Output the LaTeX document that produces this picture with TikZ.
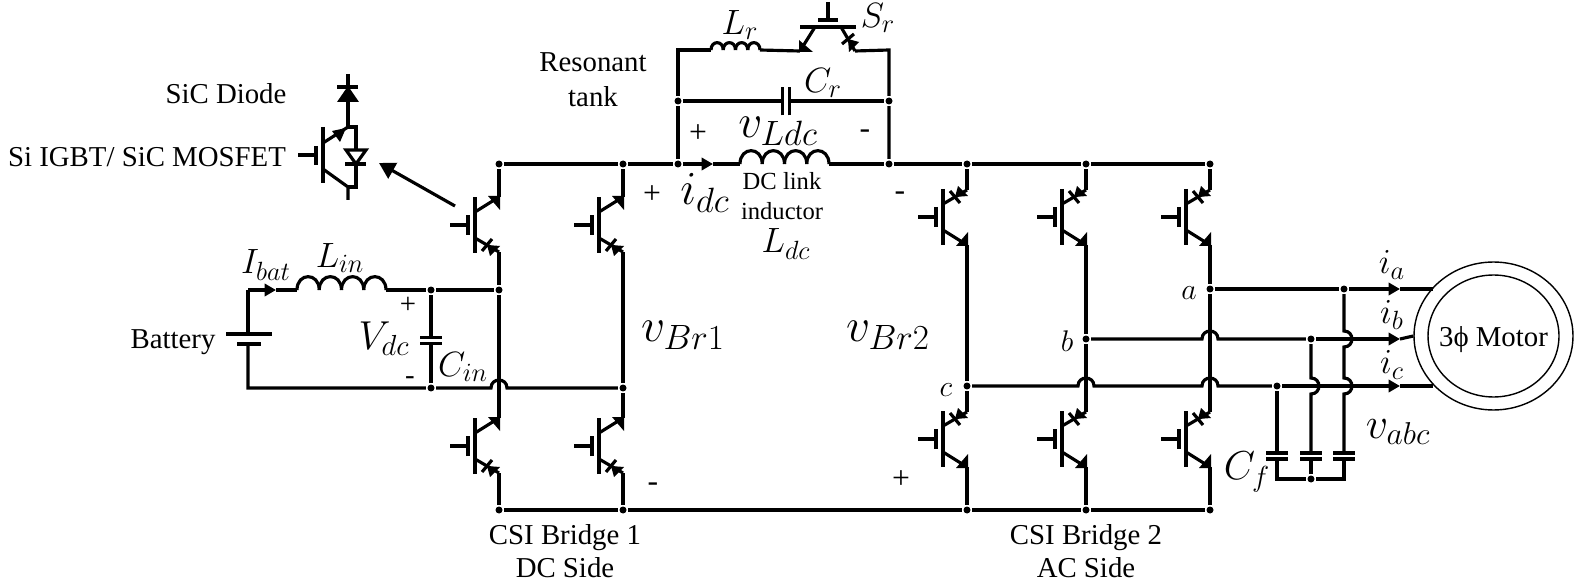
\documentclass[tikz,border=0pt]{standalone}
\usepackage{fix-cm}
\usepackage{fontspec}
\setmainfont{Liberation Serif}
\usetikzlibrary{arrows.meta,calc,shapes.geometric}
\DeclareMathSizes{20}{20}{15}{11}
\DeclareMathSizes{23}{23}{16.5}{12}
\DeclareMathSizes{25}{25}{18}{13}
\DeclareMathSizes{27}{27}{20}{15}
\newcommand{\fsz}[1]{\fontsize{#1}{#1}\selectfont}
\tikzset{every path/.style={black,line width=1.8pt}, every node/.style={inner sep=0pt,font=\fontsize{16.4}{18}\selectfont},
  dotnode/.style={circle,fill,minimum size=0.14cm},
  smalllbl/.style={font=\fsz{17}},
  lbl/.style={font=\fsz{20}},
  biglbl/.style={font=\fsz{27}},
  arrowwire/.style={-{Triangle[length=6.5pt,width=7pt]}},
  motor/.style={draw,ellipse,line width=0.8pt},
  hoph/.style={insert path={-- ($(#1)+(-8,0)$) .. controls ($(#1)+(-8,-10.6)$) and ($(#1)+(8,-10.6)$) .. ($(#1)+(8,0)$)}},
  hopv/.style={insert path={-- ($(#1)+(0,-8)$) .. controls ($(#1)+(10.6,-8)$) and ($(#1)+(10.6,8)$) .. ($(#1)+(0,8)$)}},
  igbt/.pic={
    \draw (0,-28) -- (0,28);
    \draw (-25,0) -- (-7,0) (-7,-10) -- (-7,10);
    \draw (0,13) -- (24,28);
    \fill (25,15) -- (13,29) -- (25,29) -- cycle;
    \draw (0,-13) -- (24,-27);
    \fill (12,-20) -- (15,-31) -- (25,-21) -- cycle;
    \draw (7,-26) -- (17,-14);
    \coordinate (-emi) at (24,28);
    \coordinate (-dio) at (24,-27);
  },
  coil/.pic={
    \foreach \k in {0,1,2,3}
      \draw (\k*#1,0) .. controls (\k*#1,-0.8*#1) and (\k*#1+#1,-0.8*#1) .. (\k*#1+#1,0);
    \coordinate (-in) at (0,0);
    \coordinate (-out) at (4*#1,0);
  },
  cap/.pic={
    \draw (-11,-3) -- (11,-3) (-11,3) -- (11,3);
    \coordinate (-a) at (0,-3);
    \coordinate (-b) at (0,3);
  }}

\begin{document}
\begin{tikzpicture}[x=0.02cm,y=-0.02cm]
  \useasboundingbox (0,0) rectangle (1576,584);
  \foreach \nm/\pos in {t1/{499,164},t2/{623,164},t3/{678,164},t4/{889,164},t5/{967,164},t6/{1086,164},t7/{1210,164},
      b1/{499,510},b2/{623,510},b3/{967,510},b4/{1086,510},b5/{1210,510},
      rl/{678,101},rr/{889,101},jp/{431,290},jn/{431,388},ja/{499,290},jm/{623,388},
      na/{1210,289},nb/{1086,339},nc/{967,386},fa/{1344,289},fb/{1311,339},fc/{1277,386},fn/{1311,479}}
    \node[dotnode] (\nm) at (\pos) {};
  \foreach \nm/\pos in {q1/{475,225},q2/{475,446},q3/{599,225},q4/{599,446}}
    \pic[yscale=-1] (\nm) at (\pos) {igbt};
  \foreach \nm/\pos in {q5/{943,217},q6/{943,439},q7/{1062,217},q8/{1062,439},q9/{1186,217},q10/{1186,439}}
    \pic (\nm) at (\pos) {igbt};
  \pic[rotate=-90] (sr) at (828,27) {igbt};
  \pic (lin) at (297,290) {coil=22.25};
  \pic (lr) at (711,50) {coil=12.25};
  \pic (ldc) at (740,164) {coil=22.25};
  \pic (cin) at (431,340.5) {cap};
  \pic[rotate=90,scale=1.3] (cr) at (786,101) {cap};
  \pic (cfa) at (1277,456) {cap};
  \pic (cfb) at (1311,456) {cap};
  \pic (cfc) at (1344,456) {cap};
  % dc link and resonant tank
  \coordinate (arrdc) at (713,164);
  \coordinate (rlu) at (678,50);
  \coordinate (rru) at (889,50);
  \draw (t1) -- (t2) -- (t3);
  \draw[arrowwire] (t3) -- (arrdc);
  \draw (arrdc) -- (ldc-in);
  \draw (ldc-out) -- (t4) -- (t5) -- (t6) -- (t7);
  \draw (t3) -- (rl) -- (rlu) -- (lr-in);
  \draw (lr-out) -- (sr-emi);
  \draw (sr-dio) -- (rru) -- (rr) -- (t4);
  \draw (rl) -- (cr-a);
  \draw (cr-b) -- (rr);
  \draw (b1) -- (b2) -- (b3) -- (b4) -- (b5);
  % bridge legs
  \draw (t1) -- (q1-emi);
  \draw (q1-dio) -- (ja) -- (q2-emi);
  \draw (q2-dio) -- (b1);
  \draw (t2) -- (q3-emi);
  \draw (q3-dio) -- (jm) -- (q4-emi);
  \draw (q4-dio) -- (b2);
  \draw (t5) -- (q5-dio);
  \draw (q5-emi) -- (nc) -- (q6-dio);
  \draw (q6-emi) -- (b3);
  \draw (t6) -- (q7-dio);
  \draw (q7-emi) -- (nb) -- (q8-dio);
  \draw (q8-emi) -- (b4);
  \draw (t7) -- (q9-dio);
  \draw (q9-emi) -- (na) -- (q10-dio);
  \draw (q10-emi) -- (b5);
  % battery side
  \coordinate (cbt) at (248,290);
  \coordinate (cbb) at (248,388);
  \coordinate (bata) at (248,334);
  \coordinate (batb) at (248,344);
  \coordinate (arrbat) at (276,290);
  \coordinate (xa) at (499,388);
  \draw (bata) -- (cbt);
  \draw[arrowwire] (cbt) -- (arrbat);
  \draw (arrbat) -- (lin-in);
  \draw (lin-out) -- (jp) -- (ja);
  \draw (jp) -- (cin-a);
  \draw (cin-b) -- (jn);
  \draw (batb) -- (cbb) -- (jn) [hoph=xa] -- (jm);
  \draw (226,334) -- (272,334) (237,344) -- (261,344);
  % ac side
  \node[motor,minimum width=3.18cm,minimum height=2.96cm] (mot) at (1493.5,336) {};
  \node[motor,minimum width=2.62cm,minimum height=2.44cm] (moti) at (1493.5,336) {};
  \node (motl) at (1493.5,340) {3ϕ Motor};
  \coordinate (xbr) at (1210,339);
  \coordinate (xcm) at (1086,386);
  \coordinate (xcr) at (1210,386);
  \coordinate (xba) at (1344,339);
  \coordinate (xca) at (1344,386);
  \coordinate (xcb) at (1311,386);
  \coordinate (arra) at (1400,289);
  \coordinate (arrb) at (1400,339);
  \coordinate (arrc) at (1400,386);
  \coordinate (mota) at (1433,289);
  \coordinate (motc) at (1433,386);
  \coordinate (cfl) at (1277,479);
  \coordinate (cfr) at (1344,479);
  \draw (na) -- (fa);
  \draw[arrowwire] (fa) -- (arra);
  \draw (arra) -- (mota);
  \draw (nb) [hoph=xbr] -- (fb);
  \draw[arrowwire] (fb) -- (arrb);
  \draw (arrb) -- (mot.west);
  \draw (nc) [hoph=xcm] [hoph=xcr] -- (fc);
  \draw[arrowwire] (fc) -- (arrc);
  \draw (arrc) -- (motc);
  \draw (fa) [hopv=xba] [hopv=xca] -- (cfc-a);
  \draw (fb) [hopv=xcb] -- (cfb-a);
  \draw (fc) -- (cfa-a);
  \draw (cfa-b) -- (cfl) -- (fn) -- (cfr) -- (cfc-b);
  \draw (cfb-b) -- (fn);
  % device detail
  \begin{scope}
    \coordinate (dtop) at (348,74);
    \coordinate (djn) at (348,127);
    \coordinate (dbot) at (348,200);
    \coordinate (dlow) at (348,187);
    \coordinate (fwa) at (356,127);
    \coordinate (fwb) at (356,187);
    \draw (dtop) -- (djn);
    \draw (337,87) -- (358,87);
    \fill (348,86) -- (337,102) -- (359,102) -- cycle;
    \draw (323,127) -- (323,183);
    \draw (298,155) -- (316,155) (316,146) -- (316,165);
    \draw (323,143) -- (djn);
    \fill (332,131) -- (346,128) -- (340,142) -- cycle;
    \draw (323,169) -- (dlow) -- (dbot);
    \draw (djn) -- (fwa) -- (fwb) -- (dlow);
    \draw[fill=white] (346,150) -- (366,150) -- (356,164) -- cycle;
    \draw (345,164) -- (366,164);
    \coordinate (arrfrom) at (455,206);
    \coordinate (arrtip) at (379,163);
    \draw[-{Triangle[length=9pt,width=10pt]}] (arrfrom) -- (arrtip);
  \end{scope}
  % labels
  \node (sicd) at (226,94) {SiC Diode};
  \node (sifet) at (147,157) {Si IGBT/ SiC MOSFET};
  \node (batl) at (173,342) {Battery};
  \node[align=center] (restank) at (593,80) {Resonant\\[2pt]tank};
  \node[align=center] (csia) at (565,551) {CSI Bridge 1\\[1pt]DC Side};
  \node[align=center] (csib) at (1086,551) {CSI Bridge 2\\[1pt]AC Side};
  \node[align=center,font=\fontsize{14}{17.5}\selectfont] (dclink) at (782,196) {DC link\\inductor};
  \node[lbl] (libat) at (266,265) {$I_{bat}$};
  \node[lbl] (llin) at (340,258) {$L_{in}$};
  \node[lbl] (lcin) at (463,367) {$C_{in}$};
  \node[font=\fsz{23}] (lvdc) at (384,339) {$V_{dc}$};
  \node[lbl] (llr) at (740,25) {$L_{r}$};
  \node[lbl] (lsr) at (878,18) {$S_{r}$};
  \node[lbl] (lcr) at (823,83) {$C_{r}$};
  \node[biglbl] (lvl) at (778,131) {$v_{Ldc}$};
  \node[biglbl] (lidc) at (705,193) {$i_{dc}$};
  \node[lbl] (lldc) at (786,244) {$L_{dc}$};
  \node[biglbl] (lvba) at (683,335) {$v_{Br1}$};
  \node[biglbl] (lvbb) at (888,335) {$v_{Br2}$};
  \node[font=\fsz{25}] (lvabc) at (1398,432) {$v_{abc}$};
  \node[font=\fsz{23}] (lcf) at (1247,472) {$C_{f}$};
  \node[lbl] (lia) at (1392,265) {$i_{a}$};
  \node[lbl] (lib) at (1392,315) {$i_{b}$};
  \node[lbl] (lic) at (1392,365) {$i_{c}$};
  \node[smalllbl] (lna) at (1189,293) {$a$};
  \node[smalllbl] (lnb) at (1067,341) {$b$};
  \node[smalllbl] (lnc) at (946,390) {$c$};
  \node (pa) at (408,305) {+};
  \node (ma) at (410,381) {-};
  \node[font=\fsz{18}] (pb) at (698,134) {+};
  \node[font=\fsz{18}] (mb) at (865,134) {-};
  \node[font=\fsz{18}] (pc) at (652,195) {+};
  \node[font=\fsz{18}] (mc) at (900,196) {-};
  \node[font=\fsz{18}] (md) at (653,487) {-};
  \node[font=\fsz{18}] (pd) at (901,480) {+};
\end{tikzpicture}
\end{document}
